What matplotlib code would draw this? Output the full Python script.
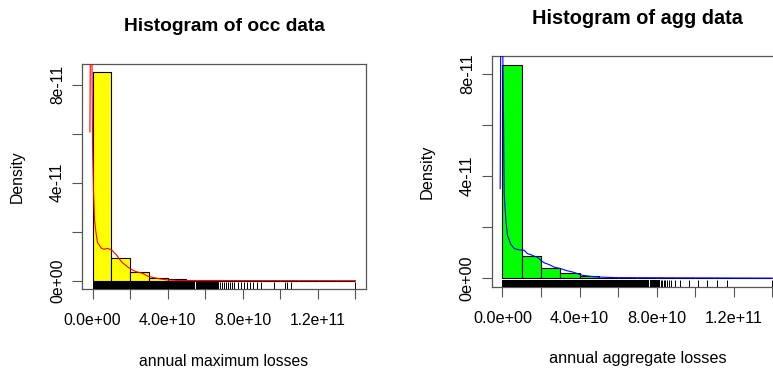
import numpy as np
import matplotlib
matplotlib.use("Agg")
import matplotlib.pyplot as plt

plt.rcParams['font.family'] = ['Liberation Sans', 'DejaVu Sans']

# histogram bins (1e10 wide, 0 .. 1.4e11)
bin_edges = [0, 1e10, 2e10, 3e10, 4e10, 5e10, 6e10, 7e10, 8e10, 9e10,
             10e10, 11e10, 12e10, 13e10, 14e10]

# bar densities, in units of 1e-11
occ_density = [8.51, 0.914, 0.37, 0.12, 0.057, 0.015, 0.007, 0.004,
               0.003, 0.002, 0.001, 0.0005, 0.0, 0.0005]
agg_density = [8.38, 0.86, 0.41, 0.21, 0.078, 0.025, 0.01, 0.006,
               0.004, 0.002, 0.001, 0.001, 0.0, 0.0005]

# kernel density curves: x in 1e9, y in 1e-11
occ_kde_x = [-1.38, -0.8, 0.02, 0.55, 1.08, 1.79, 2.68, 3.56, 4.79, 6.22,
             7.98, 9.41, 10.6, 11.5, 12.8, 14.2, 16.0, 18.6, 20.4, 23.1,
             26.6, 29.3, 32.8, 36.4, 39.9, 45.2, 48.8, 140.0]
occ_kde_y = [6.08, 15.0, 5.40, 3.57, 2.48, 2.00, 1.55, 1.46, 1.32, 1.28,
             1.32, 1.28, 1.23, 1.14, 1.05, 0.89, 0.73, 0.57, 0.47, 0.37,
             0.30, 0.19, 0.12, 0.07, 0.03, 0.01, 0.005, 0.0]
agg_kde_x = [-1.20, -0.68, 0.52, 0.89, 1.77, 2.60, 4.37, 6.09, 8.70, 11.3,
             13.0, 14.8, 16.5, 18.2, 20.0, 21.7, 24.3, 26.9, 30.4, 33.0,
             36.5, 39.1, 41.7, 46.0, 51.2, 59.9, 140.0]
agg_kde_y = [3.51, 15.0, 6.31, 3.31, 2.26, 1.67, 1.32, 1.16, 1.11, 1.09,
             0.96, 0.92, 0.86, 0.82, 0.69, 0.60, 0.53, 0.43, 0.37, 0.30,
             0.24, 0.17, 0.11, 0.07, 0.04, 0.02, 0.0]

# rug: dense solid stretches (in 1e10) and single ticks (in 1e10)
occ_rug_spans = [(0.0, 5.44), (5.50, 6.74)]
occ_rug_ticks = [6.79, 6.90, 7.01, 7.11, 7.22, 7.33, 7.43, 7.54, 7.72, 7.88,
                 8.04, 8.23, 8.39, 8.57, 8.76, 8.95, 9.66, 10.25, 10.36,
                 10.55, 13.99]
agg_rug_spans = [(0.0, 7.60), (7.66, 8.16)]
agg_rug_ticks = [8.21, 8.29, 8.37, 8.45, 8.53, 8.63, 8.73, 8.94, 9.20, 9.67,
                 10.14, 10.61, 11.13, 11.65, 13.98]

x_ticks = [0, 2e10, 4e10, 6e10, 8e10, 10e10, 12e10, 14e10]
x_ticklabels = ["0.0e+00", "", "4.0e+10", "", "8.0e+10", "", "1.2e+11", ""]
y_ticks = [0, 2e-11, 4e-11, 6e-11, 8e-11]
y_ticklabels = ["0e+00", "", "4e-11", "", "8e-11"]

W, H = 773, 372
fig = plt.figure(figsize=(W / 100, H / 100), dpi=100)


def panel(box, dens, kx, ky, spans, ticks, fill, line, title, xlabel, fs):
    x0, y0, x1, y1 = box
    ax = fig.add_axes([x0 / W, (H - y1) / H, (x1 - x0) / W, (y1 - y0) / H])
    heights = np.array(dens) * 1e-11
    ax.bar(bin_edges[:-1], heights, width=1e10, align='edge', color=fill,
           edgecolor='black', linewidth=0.8, zorder=2)
    ax.plot(np.array(kx) * 1e9, np.array(ky) * 1e-11, color=line, lw=0.8,
            zorder=3)
    for a, b in spans:
        ax.axvspan(a * 1e10, b * 1e10, ymin=0, ymax=0.03, color='black',
                   lw=0, zorder=3)
    ax.vlines(np.array(ticks) * 1e10, 0, 0.03, color='black', lw=0.7,
              transform=ax.get_xaxis_transform(), zorder=3)

    xr = bin_edges[-1] - bin_edges[0]
    ax.set_xlim(bin_edges[0] - 0.04 * xr, bin_edges[-1] + 0.04 * xr)
    ym = heights.max()
    ax.set_ylim(-0.04 * ym, 1.04 * ym)

    ax.set_xticks(x_ticks)
    ax.set_xticklabels(x_ticklabels, fontsize=fs)
    ax.set_yticks(y_ticks)
    ax.set_yticklabels(y_ticklabels, fontsize=fs, rotation=90, va='center')
    ax.tick_params(axis='x', length=7.2, width=0.8, color='#555555', pad=10)
    ax.tick_params(axis='y', length=7.2, width=0.8, color='#555555', pad=5)
    for s in ax.spines.values():
        s.set_color('#555555')
        s.set_linewidth(0.9)

    h = y1 - y0
    ax.set_title(title, fontsize=fs * 1.22, fontweight='bold', pad=0,
                 y=1 + 37.5 / h, va='center')
    ax.set_xlabel(xlabel, fontsize=fs, va='center')
    ax.xaxis.set_label_coords(0.5, -72 / h)
    ax.set_ylabel("Density", fontsize=fs, va='center')
    ax.yaxis.set_label_coords(-65 / (x1 - x0), 0.5)
    return ax


panel((82, 64, 366, 289), occ_density, occ_kde_x, occ_kde_y, occ_rug_spans,
      occ_rug_ticks, '#FFFF00', '#FF0000', "Histogram of occ data",
      "annual maximum losses", 11.3)
panel((491.7, 56, 783, 286.7), agg_density, agg_kde_x, agg_kde_y,
      agg_rug_spans, agg_rug_ticks, '#00FF00', '#0000FF',
      "Histogram of agg data", "annual aggregate losses", 11.7)

fig.savefig("out.png", dpi=100)
